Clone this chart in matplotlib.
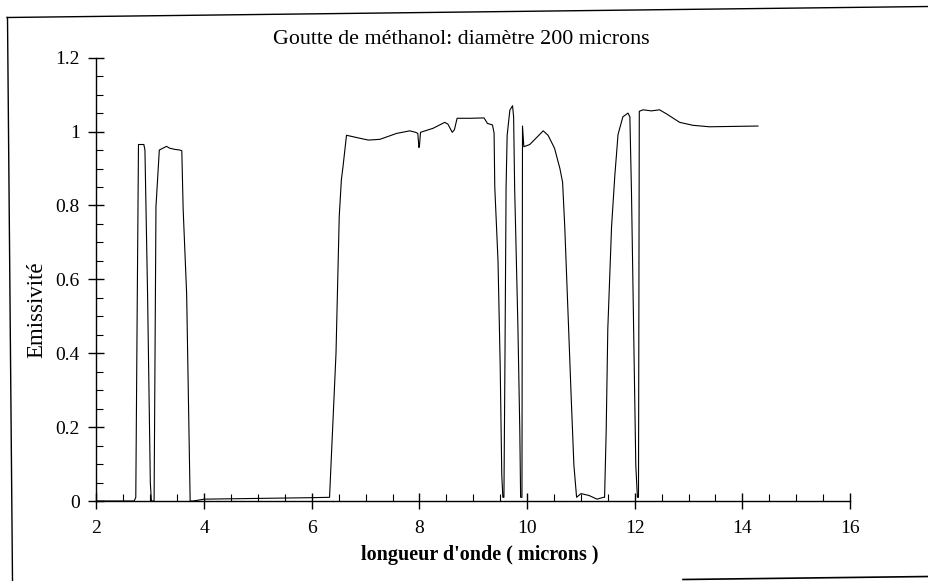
import matplotlib
matplotlib.use("Agg")
import matplotlib.pyplot as plt
from matplotlib.lines import Line2D
from matplotlib.ticker import MultipleLocator, FormatStrFormatter

# ---- data ----
wavelength = [2.0, 2.5, 2.70, 2.73, 2.755, 2.78, 2.88, 2.90, 2.95, 3.00, 3.02,
              3.07, 3.105, 3.167, 3.30, 3.36, 3.45, 3.55, 3.585, 3.61, 3.675,
              3.74, 3.80, 4.0, 5.0, 6.0, 6.33, 6.45, 6.51, 6.55, 6.58, 6.645,
              6.83, 7.05, 7.265, 7.575, 7.82, 7.93, 7.97, 7.99, 8.00, 8.02,
              8.255, 8.47, 8.53, 8.61, 8.65, 8.70, 8.94, 9.20, 9.265, 9.357,
              9.387, 9.40, 9.46, 9.50, 9.53, 9.55, 9.57, 9.59, 9.61, 9.63,
              9.68, 9.73, 9.75, 9.77, 9.79, 9.83, 9.865, 9.88, 9.905, 9.915,
              9.94, 10.05, 10.30, 10.39, 10.51, 10.61, 10.66, 10.70, 10.76,
              10.82, 10.87, 10.92, 11.0, 11.15, 11.3, 11.42, 11.44, 11.47,
              11.50, 11.57, 11.63, 11.69, 11.78, 11.875, 11.91, 11.94, 11.98,
              12.02, 12.05, 12.07, 12.085, 12.155, 12.31, 12.46, 12.59, 12.835,
              13.08, 13.39, 13.83, 14.29]
emissivity = [0.0, 0.0, 0.0, 0.01, 0.50, 0.965, 0.965, 0.95, 0.55, 0.05, 0.0,
              0.0, 0.797, 0.95, 0.96, 0.955, 0.952, 0.95, 0.948, 0.79, 0.56,
              0.0, 0.0, 0.005, 0.007, 0.009, 0.01, 0.40, 0.77, 0.87, 0.905, 0.99,
              0.984, 0.977, 0.979, 0.995, 1.002, 0.998, 0.995, 0.957, 0.96, 0.998,
              1.009, 1.025, 1.02, 0.998, 1.005, 1.036, 1.036, 1.037, 1.022, 1.018,
              0.996, 0.85, 0.65, 0.37, 0.07, 0.01, 0.01, 0.40, 0.85, 0.99,
              1.058, 1.07, 1.04, 0.84, 0.72, 0.47, 0.19, 0.01, 0.01, 1.015,
              0.959, 0.965, 1.002, 0.99, 0.955, 0.90, 0.863, 0.743, 0.512,
              0.28, 0.097, 0.01, 0.02, 0.015, 0.005, 0.01, 0.01, 0.19,
              0.466, 0.743, 0.88, 0.992, 1.04, 1.05, 1.04, 0.835, 0.466,
              0.097, 0.01, 0.01, 1.055, 1.059, 1.056, 1.059, 1.048, 1.025,
              1.017, 1.013, 1.014, 1.015]

title = "Goutte de méthanol: diamètre 200 microns"
xlabel = "longueur d'onde ( microns )"
ylabel = "Emissivité"

plt.rcParams['font.family'] = ['Liberation Serif', 'DejaVu Serif']

W, H = 929, 581
fig = plt.figure(figsize=(W / 100, H / 100), dpi=100)
ax = fig.add_axes([96.5 / W, 1 - 501 / H, (850 - 96.5) / W, (501 - 57.7) / H])

ax.plot(wavelength, emissivity, color='black', lw=0.8)

ax.set_xlim(2, 16)
ax.set_ylim(0, 1.2)
ax.xaxis.set_major_locator(MultipleLocator(2))
ax.xaxis.set_minor_locator(MultipleLocator(0.5))
ax.yaxis.set_major_locator(MultipleLocator(0.2))
ax.yaxis.set_minor_locator(MultipleLocator(0.05))

def yfmt(v, pos):
    if abs(v) < 1e-9:
        return "0"
    s = f"{v:.1f}"
    return s[:-2] if s.endswith(".0") else s

ax.yaxis.set_major_formatter(plt.FuncFormatter(yfmt))
ax.xaxis.set_major_formatter(FormatStrFormatter('%d'))

for s in ['top', 'right']:
    ax.spines[s].set_visible(False)
for s in ['left', 'bottom']:
    ax.spines[s].set_linewidth(1.0)

ax.tick_params(which='major', direction='inout', length=12, width=1.0,
               labelsize=14, color='black')
ax.tick_params(axis='x', which='major', pad=8)
ax.tick_params(axis='y', which='major', pad=6)
ax.tick_params(which='minor', direction='in', length=5, width=0.8)

# title and labels (figure coordinates)
fig.text(461 / W, 1 - 40 / H, title, ha='center', va='center', fontsize=15.8)
fig.text(37 / W, 1 - 310 / H, ylabel, ha='center', va='center', rotation=90,
         fontsize=16.5)
fig.text(480 / W, 1 - 555 / H, xlabel, ha='center', va='center',
         fontsize=14.5, fontweight='bold')

# outer scanned frame
fig.add_artist(Line2D([7 / W, 929 / W], [1 - 17.5 / H, 1 - 6.5 / H],
                      transform=fig.transFigure, color='black', lw=1.0))
fig.add_artist(Line2D([7.5 / W, 12.5 / W], [1 - 17.5 / H, 0.0],
                      transform=fig.transFigure, color='black', lw=1.0))
fig.add_artist(Line2D([683 / W, 929 / W], [1 - 579.5 / H, 1 - 576.5 / H],
                      transform=fig.transFigure, color='black', lw=1.2))

fig.savefig("out.png", dpi=100)
